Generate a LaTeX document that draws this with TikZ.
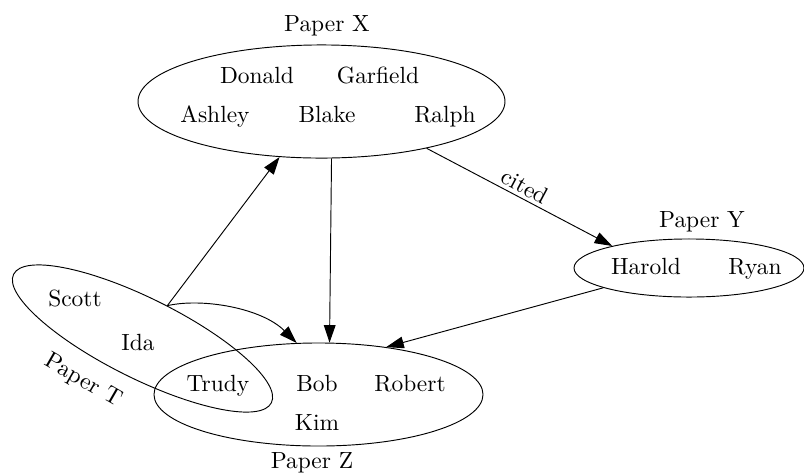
\documentclass[tikz,border=0pt]{standalone}
\usepackage{xcolor}
\usetikzlibrary{shapes.geometric,arrows.meta}

\tikzset{
  paper/.style={draw, ellipse, inner sep=0pt},
  person/.style={anchor=base, inner sep=0.75pt},
  citearrow/.style={-{Triangle[length=7.5pt,width=5pt]}}
}

\begin{document}
\begin{tikzpicture}[x=0.427pt,y=0.427pt,yscale=-1,xscale=1]
\useasboundingbox (0,0) rectangle (804,473);

%Shape: Ellipse [Paper X]
\node [paper, minimum width=156.7pt, minimum height=48.3pt] (X) at (321.5,101.5) {};
%Shape: Ellipse [Paper Y]
\node [paper, minimum width=98.2pt, minimum height=24.8pt] (Y) at (689,268) {};
%Shape: Ellipse [Paper Z]
\node [paper, minimum width=140.5pt, minimum height=44pt] (Z) at (318.5,394.5) {};
%Shape: Ellipse [Paper T]
\node [paper, minimum width=123pt, minimum height=34.2pt, rotate=-26.5] (T) at (142.5,338.5) {};

%Straight Lines [T to X]
\draw [citearrow] (T) -- coordinate[pos=0] (Tout) (X);
%Straight Lines [X to Z]
\draw [citearrow] (X.-80) -- (Z.78.5);
%Straight Lines [X to Y]
\draw [citearrow] (X.-24.7) -- node [rotate=-28, anchor=south, inner sep=1.5pt, pos=0.5] (cited) {cited} (Y.164.8);
%Straight Lines [Y to Z]
\draw [citearrow] (Y.193.1) -- (Z.35.3);
%Curve Lines [T to Z]
\draw [citearrow] (Tout) .. controls +(35,-8) and +(-35,-35) .. (Z.113.3);

% Text Node
\node [person] (labx) at (327,31) {Paper X};
% Text Node
\node [person] (laby) at (702,227) {Paper Y};
% Text Node
\node [person] (labz) at (312,468) {Paper Z};
% Text Node
\node [rotate=-30, inner sep=0.75pt] (labt) at (83,381) {Paper T};

% Text Node
\node [person] (donald) at (257,83.5) {Donald};
% Text Node
\node [person] (garfield) at (378,83.5) {Garfield};
% Text Node
\node [person] (ashley) at (215,122) {Ashley};
% Text Node
\node [person] (blake) at (327,122) {Blake};
% Text Node
\node [person] (ralph) at (445,122) {Ralph};
% Text Node
\node [person] (harold) at (646,274) {Harold};
% Text Node
\node [person] (ryan) at (755,274) {Ryan};
% Text Node
\node [person] (scott) at (75,306.5) {Scott};
% Text Node
\node [person] (ida) at (138,350) {Ida};
% Text Node
\node [person] (trudy) at (218,391) {Trudy};
% Text Node
\node [person] (bob) at (317,391) {Bob};
% Text Node
\node [person] (robert) at (410,391) {Robert};
% Text Node
\node [person] (kim) at (317,430) {Kim};

\end{tikzpicture}
\end{document}
